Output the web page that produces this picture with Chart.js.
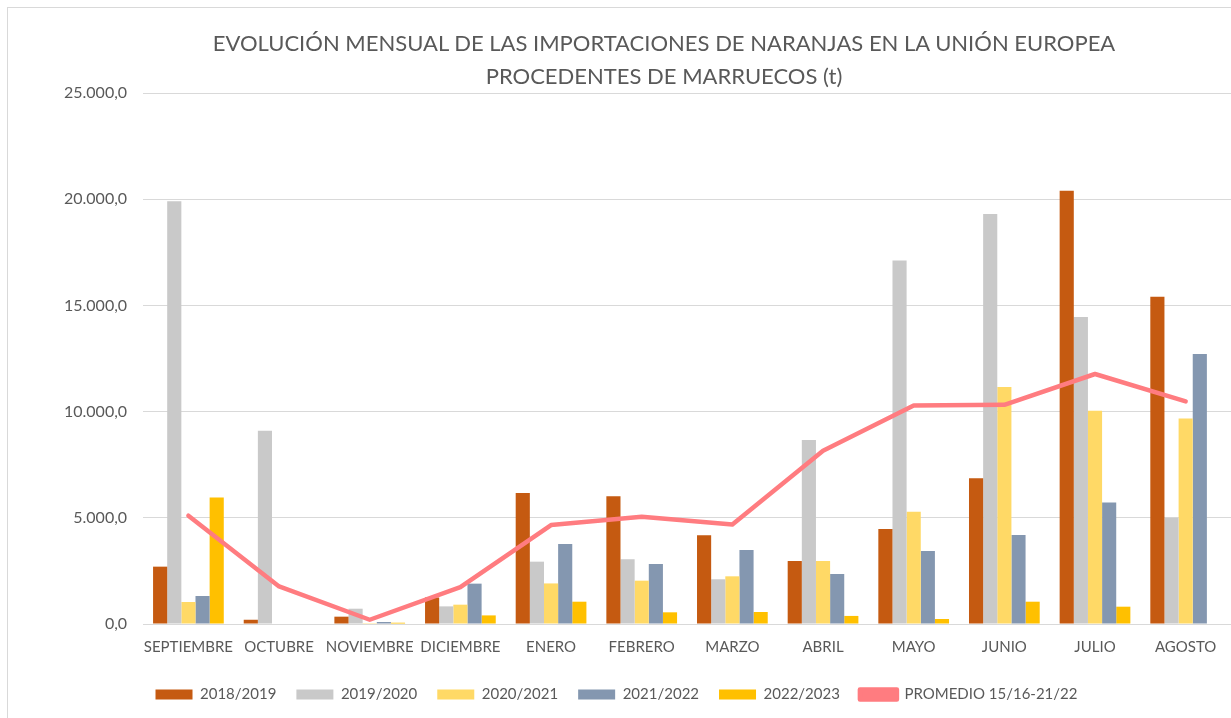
<!DOCTYPE html>
<html lang="es">
<head>
<meta charset="utf-8">
<title>Importaciones de naranjas UE - Marruecos</title>
<script src="https://cdn.jsdelivr.net/npm/chart.js@4.4.1/dist/chart.umd.min.js"></script>
<style>
    html, body { margin: 0; padding: 0; background: #fff; overflow: hidden; }
    #wrap { position: relative; width: 1231px; height: 718px; }
    #frame { position: absolute; left: 7px; top: 7px; width: 1400px; height: 800px; border: 1px solid #d9d9d9; }
    #title {
        position: absolute; left: 0; top: 26px; width: 1328px;
        text-align: center; font-family: Lato, sans-serif; font-size: 22px;
        line-height: 33px; color: #595959;
    }
    #chart { position: absolute; left: 0; top: 0; }
</style>
</head>
<body>
<div id="wrap">
    <div id="frame"></div>
    <canvas id="chart" width="1231" height="718"></canvas>
    <div id="title">EVOLUCIÓN MENSUAL DE LAS IMPORTACIONES DE NARANJAS EN LA UNIÓN EUROPEA<br>PROCEDENTES DE MARRUECOS (t)</div>
</div>
<script>
// Months (campaign Sept -> Aug)
const months = ['SEPTIEMBRE', 'OCTUBRE', 'NOVIEMBRE', 'DICIEMBRE', 'ENERO', 'FEBRERO',
    'MARZO', 'ABRIL', 'MAYO', 'JUNIO', 'JULIO', 'AGOSTO'];

// Tonnes per campaign
const c2018_19 = [2700, 200, 345, 1250, 6170, 6010, 4175, 2965, 4470, 6860, 20400, 15410];
const c2019_20 = [19900, 9100, 720, 830, 2935, 3045, 2105, 8665, 17110, 19300, 14455, 5005];
const c2020_21 = [1036, 0, 40, 910, 1910, 2040, 2245, 2965, 5290, 11160, 10045, 9670];
const c2021_22 = [1318, 0, 95, 1900, 3765, 2825, 3485, 2355, 3435, 4190, 5715, 12710];
const c2022_23 = [5960, 0, 60, 405, 1050, 550, 565, 380, 235, 1050, 815, 0];
const promedio = [5100, 1770, 200, 1740, 4660, 5050, 4690, 8160, 10290, 10320, 11770, 10480];

// y axis
const yMax = 25000;
const yStep = 5000;

// Spanish style number: 25.000,0
function formatEs(v) {
    const parts = v.toFixed(1).split('.');
    return parts[0].replace(/\B(?=(\d{3})+(?!\d))/g, '.') + ',' + parts[1];
}

const textColor = '#595959';
const gridColor = '#d9d9d9';
Chart.defaults.font.family = 'Lato, sans-serif';
Chart.defaults.font.size = 15;
Chart.defaults.color = textColor;

function bar(label, data, color) {
    return {
        type: 'bar',
        label: label,
        data: data,
        backgroundColor: color,
        borderWidth: 0,
        order: 1,
        categoryPercentage: 0.78,
        barPercentage: 1.0
    };
}

const ctx = document.getElementById('chart').getContext('2d');
const chart = new Chart(ctx, {
    data: {
        labels: months,
        datasets: [
            bar('2018/2019', c2018_19, '#c55a11'),
            bar('2019/2020', c2019_20, '#c9c9c9'),
            bar('2020/2021', c2020_21, '#ffd966'),
            bar('2021/2022', c2021_22, '#8497b0'),
            bar('2022/2023', c2022_23, '#ffc000'),
            {
                type: 'line',
                label: 'PROMEDIO 15/16-21/22',
                data: promedio,
                borderColor: '#ff7c80',
                backgroundColor: '#ff7c80',
                borderWidth: 4.5,
                pointRadius: 0,
                borderCapStyle: 'round',
                borderJoinStyle: 'round',
                tension: 0,
                order: 0
            }
        ]
    },
    options: {
        responsive: false,
        animation: false,
        layout: {
            padding: { top: 93, left: 2, right: 0, bottom: 6 }
        },
        plugins: {
            title: { display: false },
            tooltip: { enabled: false },
            legend: {
                position: 'bottom',
                labels: {
                    boxWidth: 37,
                    boxHeight: 10,
                    padding: 20,
                    color: textColor,
                    sort: (a, b) => a.datasetIndex - b.datasetIndex
                }
            }
        },
        scales: {
            x: {
                grid: { display: false },
                border: { color: gridColor, width: 1 },
                ticks: { color: textColor, padding: 6, maxRotation: 0, autoSkip: false },
                afterFit: function(scale) { scale.height += 5; }
            },
            y: {
                min: 0,
                max: yMax,
                grid: { color: gridColor, drawTicks: false },
                border: { display: false },
                ticks: {
                    stepSize: yStep,
                    padding: 16,
                    color: textColor,
                    font: { size: 16 },
                    callback: function(value) { return formatEs(value); }
                },
                // keep the plot's left edge where the reference has it
                afterFit: function(scale) { scale.width += 46; }
            }
        }
    }
});
</script>
</body>
</html>
